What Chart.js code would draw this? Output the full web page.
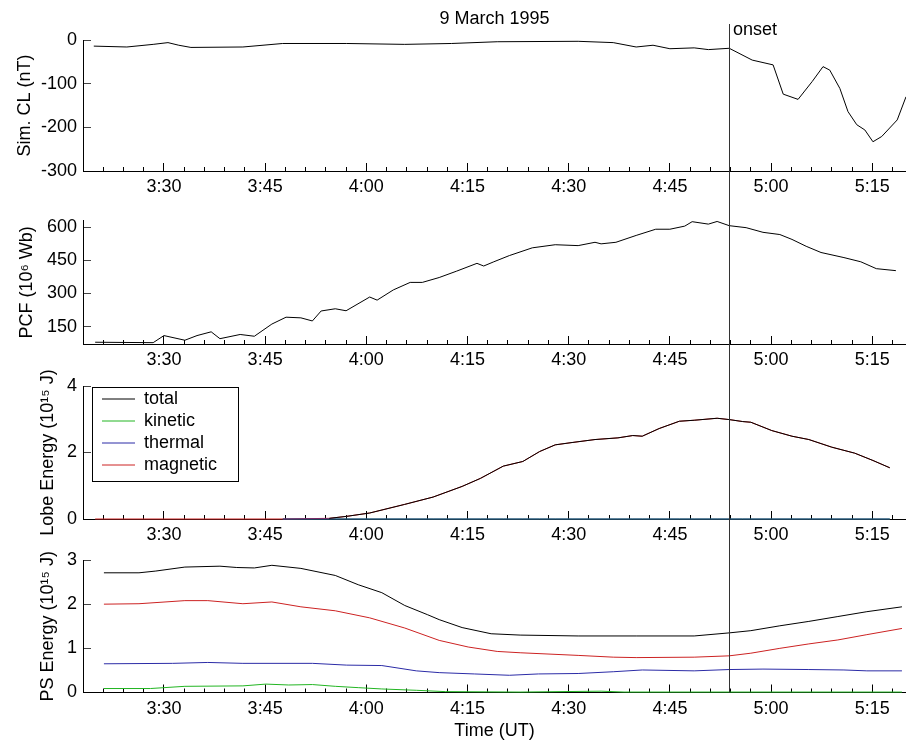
<!DOCTYPE html>
<html><head><meta charset="utf-8">
<script src="https://cdn.jsdelivr.net/npm/chart.js@4/dist/chart.umd.min.js"></script>
<style>
html,body{margin:0;padding:0;background:#fff;width:906px;height:743px;overflow:hidden;}
canvas{position:absolute;left:0;}
</style></head><body>
<canvas id="c1" width="906" height="204" style="top:0px"></canvas>
<canvas id="c2" width="906" height="180" style="top:196px"></canvas>
<canvas id="c3" width="906" height="205" style="top:350px"></canvas>
<canvas id="c4" width="906" height="213" style="top:530px"></canvas>
<script>
// ---------- data (time in minutes after 00:00 UT) ----------
const X_MIN = 198, X_MAX = 320;
const onsetTime = 293.8;
const chartTitle = '9 March 1995';
const onsetLabel = 'onset';
const xAxisTitle = 'Time (UT)';
const yTitles = ['Sim. CL (nT)', 'PCF (10\u2076 Wb)', 'Lobe Energy (10\u00b9\u2075 J)', 'PS Energy (10\u00b9\u2075 J)'];
const seriesNames = ['total', 'kinetic', 'thermal', 'magnetic'];

// Panel 1: simulated CL
const clTime = [199.6, 204.5, 208.4, 210.6, 212.2, 214.0, 221.7, 227.6, 237.1, 245.7, 252.6, 259.4, 271.4, 276.6, 280.0, 282.5, 285.0, 288.6, 290.7, 293.8, 297.2, 300.3, 301.8, 304.0, 306.1, 307.7, 308.7, 310.2, 311.4, 312.7, 313.9, 315.1, 316.4, 318.7, 320.0];
const clValue = [-14, -16, -10, -6, -12, -17, -16, -8, -8, -10, -8, -4, -3, -6, -16, -12, -20, -18, -22, -19, -46, -57, -124, -136, -95, -61, -69, -111, -164, -194, -206, -233, -221, -183, -130];

// Panel 2: PCF
const pcfTime = [199.8, 208.4, 210.0, 213.1, 214.9, 217.0, 218.3, 221.3, 223.4, 226.0, 228.1, 230.3, 232.0, 233.3, 235.4, 237.0, 240.5, 241.6, 244.0, 246.5, 248.3, 250.8, 253.4, 256.4, 257.4, 258.9, 261.2, 264.6, 268.0, 271.4, 273.9, 274.8, 277.0, 280.0, 282.9, 285.0, 287.2, 288.3, 290.7, 292.0, 293.8, 296.3, 298.8, 301.3, 303.1, 305.2, 307.4, 310.8, 313.3, 315.6, 318.5];
const pcfValue = [80, 78, 110, 89, 110, 127, 96, 115, 107, 162, 193, 190, 176, 221, 231, 222, 284, 270, 316, 350, 350, 372, 401, 436, 424, 443, 471, 506, 520, 516, 531, 524, 531, 562, 590, 590, 604, 624, 613, 625, 606, 597, 576, 566, 544, 513, 485, 462, 443, 412, 403];

// Panel 3: lobe energy
const lobeTime = [199.8, 227.6, 234.5, 237.1, 240.5, 245.7, 249.9, 254.2, 256.9, 260.3, 263.2, 265.7, 268.0, 270.5, 273.9, 277.3, 279.5, 280.9, 283.4, 286.4, 288.6, 292.0, 293.8, 295.8, 297.0, 300.1, 303.1, 305.6, 309.0, 312.4, 315.1, 317.6];
const lobeMagnetic = [0, 0, 0.02, 0.08, 0.18, 0.44, 0.66, 0.98, 1.22, 1.59, 1.73, 2.03, 2.23, 2.30, 2.39, 2.44, 2.51, 2.49, 2.72, 2.94, 2.97, 3.03, 2.99, 2.93, 2.91, 2.66, 2.49, 2.39, 2.16, 1.98, 1.76, 1.54];
const lobeTotal = [null, null, 0.02, 0.08, 0.18, 0.44, 0.66, 0.98, 1.22, 1.59, 1.73, 2.03, 2.23, 2.30, 2.39, 2.44, 2.51, 2.49, 2.72, 2.94, 2.97, 3.03, 2.99, 2.93, 2.91, 2.66, 2.49, 2.39, 2.16, 1.98, 1.76, 1.54];
const lobeThermal = [null, 0, 0, 0, 0, 0, 0, 0, 0, 0, 0, 0, 0, 0, 0, 0, 0, 0, 0, 0, 0, 0, 0, 0, 0, 0, 0, 0, 0, 0, 0, 0];
const lobeKinetic = [null, 0, 0, 0, 0, 0, 0, 0, 0, 0, 0, 0, 0, 0, 0, 0, 0, 0, 0, 0, 0, 0, 0, 0, 0, 0, 0, 0, 0, 0, 0, 0];

// Panel 4: plasma sheet energy
const psTotalTime = [201.1, 206.3, 208.8, 213.1, 218.3, 220.8, 223.4, 226.0, 230.3, 235.4, 238.8, 242.3, 245.7, 249.1, 250.8, 254.2, 258.5, 262.8, 271.4, 280.0, 288.6, 293.8, 297.0, 301.3, 305.6, 309.9, 314.2, 319.4];
const psTotal = [2.71, 2.71, 2.75, 2.84, 2.86, 2.83, 2.82, 2.88, 2.81, 2.65, 2.44, 2.26, 1.97, 1.76, 1.65, 1.47, 1.33, 1.30, 1.28, 1.28, 1.28, 1.35, 1.40, 1.51, 1.61, 1.72, 1.83, 1.94];
const psMagTime = [201.1, 206.3, 213.1, 216.5, 221.7, 226.0, 230.3, 235.4, 240.5, 245.7, 250.8, 255.1, 259.4, 262.8, 271.4, 276.6, 280.0, 288.6, 293.8, 297.0, 301.3, 305.6, 309.9, 314.2, 319.4];
const psMagnetic = [2.00, 2.01, 2.08, 2.08, 2.01, 2.05, 1.94, 1.85, 1.69, 1.46, 1.18, 1.03, 0.93, 0.90, 0.84, 0.80, 0.79, 0.80, 0.83, 0.89, 1.00, 1.10, 1.19, 1.31, 1.45];
const psThermTime = [201.1, 211.3, 216.5, 221.7, 232.0, 237.1, 242.3, 247.4, 250.8, 256.0, 261.2, 265.5, 271.4, 276.6, 280.9, 288.6, 293.8, 298.8, 305.6, 310.8, 314.2, 319.4];
const psThermal = [0.65, 0.66, 0.68, 0.66, 0.66, 0.62, 0.61, 0.49, 0.45, 0.42, 0.39, 0.42, 0.43, 0.47, 0.51, 0.49, 0.52, 0.53, 0.52, 0.51, 0.49, 0.49];
const psKinTime = [201.1, 208.0, 213.1, 221.7, 225.1, 228.5, 232.0, 235.4, 238.8, 242.3, 247.4, 251.7, 262.8, 274.8, 278.2, 319.4];
const psKinetic = [0.09, 0.09, 0.14, 0.15, 0.19, 0.17, 0.18, 0.14, 0.11, 0.08, 0.05, 0.02, 0.01, 0.03, 0.01, 0.01];

// ---------- styling ----------
const FONT = "'Liberation Sans', Arial, Helvetica, sans-serif";
const COL = {total: '#000000', kinetic: '#22b522', thermal: '#2b2ba6', magnetic: '#cc2222'};

function xy(t, v) { return t.map((x, i) => ({x: x, y: v[i]})); }
function fmtTime(v) { const h = Math.floor(v / 60); const m = Math.round(v - h * 60); return h + ':' + String(m).padStart(2, '0'); }
function ds(label, t, v, color, order) {
  return {label: label, data: xy(t, v), borderColor: color, backgroundColor: color, borderWidth: 1,
          pointRadius: 0, tension: 0, fill: false, xAxisID: 'x', yAxisID: 'y', order: order, clip: 4};
}

const onsetPlugin = {
  id: 'onset',
  afterDatasetsDraw(chart, args, opts) {
    const ctx = chart.ctx;
    const x = Math.round(chart.scales.x.getPixelForValue(onsetTime)) + 0.5;
    const y0 = opts.top || 0;
    const y1 = opts.toArea ? chart.chartArea.bottom : chart.height;
    ctx.save();
    ctx.strokeStyle = '#333';
    ctx.lineWidth = 1;
    ctx.beginPath(); ctx.moveTo(x, y0); ctx.lineTo(x, y1); ctx.stroke();
    if (opts.label) {
      ctx.fillStyle = '#000'; ctx.font = '18px ' + FONT;
      ctx.textBaseline = 'middle'; ctx.textAlign = 'left';
      ctx.fillText(opts.label, x + 3.5, opts.labelY);
    }
    ctx.restore();
  }
};

const legendBoxPlugin = {
  id: 'legendBox',
  beforeDraw(chart) {
    if (chart.legend && chart.options.plugins.legend.display) {
      chart.legend.left = chart.chartArea.left + 15;
      chart.legend.top = chart.chartArea.top;
    }
  },
  afterDraw(chart) {
    if (!(chart.legend && chart.options.plugins.legend.display)) return;
    const L = chart.legend, ctx = chart.ctx;
    ctx.save();
    ctx.strokeStyle = '#000'; ctx.lineWidth = 1;
    ctx.strokeRect(Math.round(L.left - 6) + 0.5, Math.round(L.top + 1) + 0.5, 146, 94);
    ctx.restore();
  }
};

function makeChart(id, c) {
  return new Chart(document.getElementById(id), {
    type: 'line',
    data: {datasets: c.datasets},
    options: {
      responsive: false, animation: false, events: [],
      layout: {padding: {left: 0, right: 0, top: c.padTop, bottom: c.padBottom}},
      plugins: {
        tooltip: {enabled: false},
        title: c.title ? {display: true, text: c.title, fullSize: false, color: '#000',
          font: {family: FONT, size: 18, weight: 'normal'}, padding: {top: 0, bottom: 10.4}} : {display: false},
        legend: c.legend ? {display: true, position: 'chartArea', align: 'start',
          labels: {usePointStyle: true, pointStyle: 'line', pointStyleWidth: 33, padding: 4, color: '#000',
                   font: {family: FONT, size: 18}, sort: (a, b) => a.datasetIndex - b.datasetIndex}} : {display: false},
        onset: c.onset
      },
      scales: {
        x: {type: 'linear', axis: 'x', position: 'bottom', min: X_MIN, max: X_MAX, weight: 1,
          ticks: {stepSize: 15, includeBounds: false, autoSkip: false, maxRotation: 0, minRotation: 0, padding: 13.5,
                  color: '#000', font: {family: FONT, size: 18}, callback: v => fmtTime(v)},
          grid: {drawOnChartArea: false, drawTicks: true, tickLength: -8, tickColor: '#000', tickWidth: 1},
          border: {display: true, color: '#000', width: 1},
          title: c.xTitle ? {display: true, text: c.xTitle, color: '#000', font: {family: FONT, size: 18},
                             padding: {top: 0, bottom: 1}} : {display: false},
          afterFit: s => { s.height = c.xHeight; }
        },
        xMinor: {type: 'linear', axis: 'x', position: 'bottom', min: X_MIN, max: X_MAX, weight: 0,
          ticks: {stepSize: 3, includeBounds: false, autoSkip: false, maxRotation: 0, minRotation: 0, callback: () => ''},
          grid: {drawOnChartArea: false, drawTicks: true, tickLength: -4, tickColor: '#000', tickWidth: 1},
          border: {display: true, color: '#000', width: 1},
          afterFit: s => { s.height = 0; }
        },
        y: {type: 'linear', position: 'left', min: c.yMin, max: c.yMax,
          ticks: {stepSize: c.yStep, includeBounds: false, autoSkip: false, padding: 14, color: '#000',
                  font: {family: FONT, size: 18}, callback: v => String(v)},
          grid: {drawOnChartArea: false, drawTicks: true, tickLength: -8, tickColor: '#444', tickWidth: 1},
          border: {display: true, color: '#000', width: 1},
          title: {display: true, text: c.yTitle, color: '#000', font: {family: FONT, size: 18},
                  padding: {top: c.yTitlePad, bottom: 0}},
          afterFit: s => { s.width = 83; }
        }
      }
    },
    plugins: [onsetPlugin, legendBoxPlugin]
  });
}

// Panel 1
makeChart('c1', {
  datasets: [ds('CL', clTime, clValue, '#000', 1)],
  yMin: -300, yMax: 0, yStep: 100, yTitle: yTitles[0], yTitlePad: 14,
  padTop: 8, padBottom: 0, xHeight: 33, title: chartTitle,
  onset: {top: 24, toArea: false, label: onsetLabel, labelY: 30}
});
// Panel 2
makeChart('c2', {
  datasets: [ds('PCF', pcfTime, pcfValue, '#000', 1)],
  yMin: 72, yMax: 628, yStep: 150, yTitle: yTitles[1], yTitlePad: 16,
  padTop: 17, padBottom: 0, xHeight: 32,
  onset: {top: 0, toArea: false}
});
// Panel 3
makeChart('c3', {
  datasets: [
    ds(seriesNames[0], lobeTime, lobeTotal, COL.total, 1),
    ds(seriesNames[1], lobeTime, lobeKinetic, COL.kinetic, 4),
    ds(seriesNames[2], lobeTime, lobeThermal, COL.thermal, 2),
    ds(seriesNames[3], lobeTime, lobeMagnetic, COL.magnetic, 3)
  ],
  yMin: 0, yMax: 4, yStep: 2, yTitle: yTitles[2], yTitlePad: 37,
  padTop: 36, padBottom: 6, xHeight: 30, legend: true,
  onset: {top: 0, toArea: false}
});
// Panel 4
makeChart('c4', {
  datasets: [
    ds(seriesNames[0], psTotalTime, psTotal, COL.total, 1),
    ds(seriesNames[1], psKinTime, psKinetic, COL.kinetic, 4),
    ds(seriesNames[2], psThermTime, psThermal, COL.thermal, 2),
    ds(seriesNames[3], psMagTime, psMagnetic, COL.magnetic, 3)
  ],
  yMin: 0, yMax: 3, yStep: 1, yTitle: yTitles[3], yTitlePad: 37,
  padTop: 30, padBottom: 0, xHeight: 50.5, xTitle: xAxisTitle,
  onset: {top: 0, toArea: true}
});
</script>
</body></html>
